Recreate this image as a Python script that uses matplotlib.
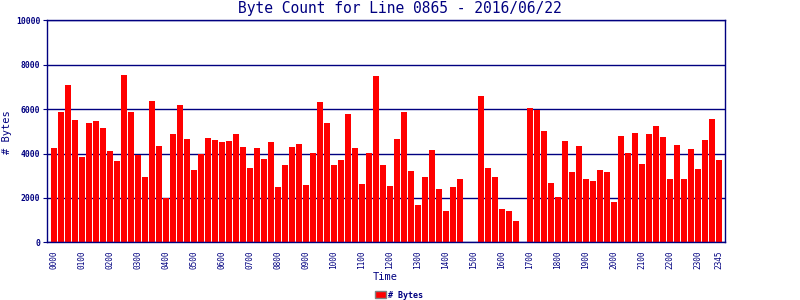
import matplotlib
matplotlib.use("Agg")
import matplotlib.pyplot as plt
from matplotlib.patches import Patch
import numpy as np

# 15-minute slots 0000 .. 2345
times = [f"{h:02d}{m:02d}" for h in range(24) for m in (0, 15, 30, 45)]
byte_counts = [
    4250, 5865, 7080, 5505, 3840, 5370, 5460, 5145, 4110, 3660, 7530, 5865,
    3930, 2940, 6360, 4335, 1995, 4875, 6180, 4650, 3255, 3975, 4695, 4605,
    4515, 4560, 4875, 4290, 3345, 4245, 3750, 4515, 2490, 3480, 4290, 4425,
    2580, 4020, 6315, 5370, 3480, 3705, 5775, 4245, 2625, 4020, 7485, 3480,
    2535, 4650, 5865, 3210, 1680, 2940, 4155, 2400, 1410, 2490, 2850, 0,
    0, 6585, 3345, 2940, 1500, 1410, 960, 0, 6045, 5955, 5010, 2670,
    2040, 4560, 3165, 4335, 2850, 2760, 3255, 3165, 1815, 4785, 4020, 4920,
    3525, 4875, 5235, 4740, 2850, 4380, 2850, 4200, 3300, 4605, 5550, 3705,
]
tick_labels = [f"{h:02d}00" for h in range(24)] + ["2345"]
y_ticks = [0, 2000, 4000, 6000, 8000, 10000]
title = "Byte Count for Line 0865 - 2016/06/22"
series_name = "# Bytes"

NAVY = "#000080"
RED = "#FF0000"
MONO = "DejaVu Sans Mono"

fig = plt.figure(figsize=(8, 3), dpi=100)
ax = fig.add_axes([46.5 / 800, 1 - 242.3 / 300, (725 - 46.5) / 800, (242.3 - 20.3) / 300])

x = np.arange(len(times))
bars = ax.bar(x, byte_counts, width=0.86, color=RED, linewidth=0, zorder=2)

ax.set_xlim(-1.07, 95.86)
ax.set_ylim(0, 10000)
ax.set_yticks(y_ticks)
ax.set_yticklabels([str(v) for v in y_ticks], fontfamily=MONO, fontweight="bold",
                   fontsize=5.8, color=NAVY)

tick_pos = [times.index(t) for t in tick_labels]
ax.set_xticks(tick_pos)
ax.set_xticklabels(tick_labels, rotation=90, fontfamily=MONO, fontsize=5.6, color=NAVY)

ax.tick_params(axis="y", direction="out", length=3, width=0.8, color=NAVY, pad=1.5)
ax.tick_params(axis="x", length=0, pad=6)

ax.set_axisbelow(True)
ax.yaxis.grid(True, color=NAVY, linewidth=1.0)
for s in ax.spines.values():
    s.set_color(NAVY)
    s.set_linewidth(1.0)

fig.text(0.5, 1 - 8.5 / 300, title, ha="center", va="center", fontfamily=MONO,
         fontsize=10.5, color=NAVY)
fig.text(385 / 800, 1 - 277.5 / 300, "Time", ha="center", va="center",
         fontfamily=MONO, fontsize=7.5, color=NAVY)
fig.text(7.5 / 800, 1 - 132 / 300, series_name, ha="center", va="center",
         rotation=90, fontfamily=MONO, fontsize=7.5, color=NAVY)

handle = Patch(facecolor=RED, edgecolor="#808080", linewidth=1.0)
leg = fig.legend([handle], [series_name], loc="center",
                 bbox_to_anchor=(399 / 800, 1 - 295 / 300), frameon=False,
                 handlelength=1.3, handleheight=0.8, handletextpad=0.3,
                 borderpad=0, prop={"family": MONO, "weight": "bold", "size": 6})
for t in leg.get_texts():
    t.set_color(NAVY)

fig.savefig("out.png", dpi=100)
